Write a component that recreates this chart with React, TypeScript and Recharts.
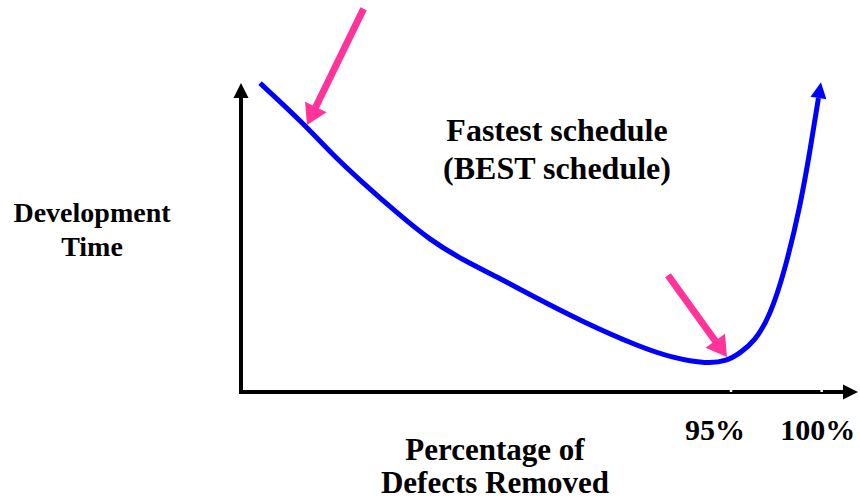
import { LineChart, Line, XAxis, YAxis, ReferenceLine } from "recharts";

// curve: x = % of defects removed, y = development time (arbitrary units)
const defectsRemoved = [
  69.05, 71.53, 72.9, 74.72, 76.6, 78.41, 80.23, 82.11, 83.76, 86.85, 89.99,
  91.81, 93.68, 94.78, 95.5, 96.32, 97.15, 97.98, 98.83, 99.38, 99.82,
];
const devTime = [
  99.0, 85.6, 76.9, 67.0, 57.4, 48.7, 42.3, 36.9, 31.7, 22.4, 14.4,
  10.9, 9.0, 9.9, 12.5, 16.3, 24.4, 39.1, 59.9, 78.2, 94.2,
];

const xTicks = [95, 100];
const xTickLabels = ["95%", "100%"];

// pink pointer arrows (tail -> tip), data coords
const pointerFrom = [
  { x: 74.67, y: 121.8 },
  { x: 91.64, y: 36.5 },
];
const pointerTo = [
  { x: 71.64, y: 85.6 },
  { x: 94.78, y: 11.2 },
];

const data = defectsRemoved.map((d, i) => ({ pct: d, time: devTime[i] }));

const FONT = '"Liberation Serif", "Times New Roman", Times, serif';
const BLUE = "#0000ff";
const PINK = "#ff3399";

function makeArrow(color: string, width: number, headLen: number, headHalf: number) {
  return (props: any) => {
    const { x1, y1, x2, y2 } = props;
    const dx = x2 - x1;
    const dy = y2 - y1;
    const len = Math.hypot(dx, dy) || 1;
    const ux = dx / len;
    const uy = dy / len;
    const bx = x2 - ux * headLen;
    const by = y2 - uy * headLen;
    const px = -uy;
    const py = ux;
    return (
      <g>
        <line x1={x1} y1={y1} x2={bx} y2={by} stroke={color} strokeWidth={width} strokeLinecap="square" />
        <polygon
          points={`${x2},${y2} ${bx + px * headHalf},${by + py * headHalf} ${bx - px * headHalf},${by - py * headHalf}`}
          fill={color}
        />
      </g>
    );
  };
}

const axisArrow = makeArrow("#000", 4, 15, 7.5);
const pinkArrow = makeArrow(PINK, 7, 20, 12);

const labelStyle = { fontFamily: FONT, fontWeight: 700 };

function PercentTick(props: any) {
  const { x, y, payload } = props;
  const i = xTicks.indexOf(payload.value);
  const shift = payload.value === 95 ? -16 : -4;
  return (
    <text x={x + shift} y={y + 48} textAnchor="middle" fontSize={30} fill="#000" style={labelStyle}>
      {xTickLabels[i]}
    </text>
  );
}

function CurveHead(props: any) {
  const { cx, cy, index, points } = props;
  if (index !== data.length - 1) return <g key={`dot-${index}`} />;
  let ux = 0.16;
  let uy = -0.987;
  if (points && points.length > 1) {
    const prev = points[points.length - 2];
    const dx = cx - prev.x;
    const dy = cy - prev.y;
    const l = Math.hypot(dx, dy) || 1;
    ux = dx / l;
    uy = dy / l;
  }
  const len = 16;
  const half = 8;
  const tx = cx + ux * len;
  const ty = cy + uy * len;
  return (
    <polygon
      key={`dot-${index}`}
      points={`${tx},${ty} ${cx - uy * half},${cy + ux * half} ${cx + uy * half},${cy - ux * half}`}
      fill={BLUE}
    />
  );
}

export default function App() {
  return (
    <div style={{ position: "absolute", left: 0, top: 0, width: 860, height: 500, background: "#fff" }}>
      <LineChart width={860} height={500} data={data} margin={{ top: 2, right: 2, bottom: 0, left: 241 }}>
        <XAxis
          dataKey="pct"
          type="number"
          domain={[68, 102]}
          ticks={xTicks}
          interval={0}
          height={108}
          axisLine={false}
          tickLine={false}
          tickSize={0}
          tickMargin={0}
          tick={<PercentTick />}
          allowDataOverflow
        />
        <YAxis type="number" domain={[0, 125]} hide allowDataOverflow />
        <ReferenceLine segment={[{ x: 68, y: 0 }, { x: 102, y: 0 }]} ifOverflow="visible" shape={axisArrow} />
        <ReferenceLine segment={[{ x: 68, y: 0 }, { x: 68, y: 99 }]} ifOverflow="visible" shape={axisArrow} />
        {xTicks.map((t) => (
          <ReferenceLine
            key={`notch-${t}`}
            segment={[{ x: t, y: 0 }, { x: t, y: 0.95 }]}
            ifOverflow="visible"
            stroke="#fff"
            strokeWidth={2.5}
          />
        ))}
        <Line
          dataKey="time"
          type="basis"
          stroke={BLUE}
          strokeWidth={5}
          dot={CurveHead}
          activeDot={false}
          isAnimationActive={false}
        />
        {pointerFrom.map((f, i) => (
          <ReferenceLine key={i} segment={[f, pointerTo[i]]} ifOverflow="visible" shape={pinkArrow} />
        ))}
        <text x={557} y={141} textAnchor="middle" fontSize={32} fill="#000" style={labelStyle}>Fastest schedule</text>
        <text x={557} y={179} textAnchor="middle" fontSize={32} fill="#000" style={labelStyle}>(BEST schedule)</text>
        <text x={92} y={222} textAnchor="middle" fontSize={28} fill="#000" style={labelStyle}>Development</text>
        <text x={92} y={256} textAnchor="middle" fontSize={28} fill="#000" style={labelStyle}>Time</text>
        <text x={495} y={460} textAnchor="middle" fontSize={31} fill="#000" style={labelStyle}>Percentage of</text>
        <text x={495} y={493} textAnchor="middle" fontSize={31} fill="#000" style={labelStyle}>Defects Removed</text>
      </LineChart>
    </div>
  );
}
